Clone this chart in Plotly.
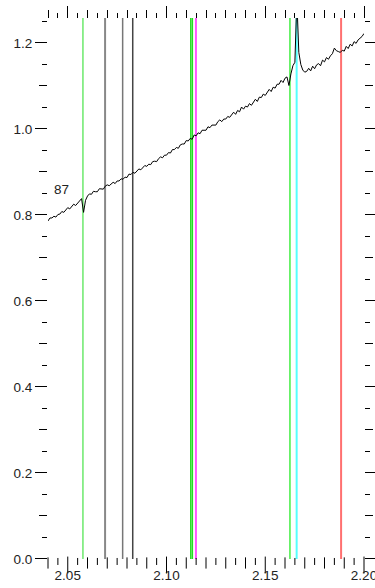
import plotly.graph_objects as go

# Wavelength grid (micron) and normalised flux of the spectrum
wave = [
    2.040, 2.041, 2.042, 2.043, 2.044, 2.045, 2.046, 2.047, 2.048, 2.049,
    2.050, 2.051, 2.052, 2.053, 2.054, 2.055, 2.056, 2.057, 2.058, 2.059,
    2.060, 2.061, 2.062, 2.063, 2.064, 2.065, 2.066, 2.067, 2.068, 2.069,
    2.070, 2.071, 2.072, 2.073, 2.074, 2.075, 2.076, 2.077, 2.078, 2.079,
    2.080, 2.081, 2.082, 2.083, 2.084, 2.085, 2.086, 2.087, 2.088, 2.089,
    2.090, 2.091, 2.092, 2.093, 2.094, 2.095, 2.096, 2.097, 2.098, 2.099,
    2.100, 2.101, 2.102, 2.103, 2.104, 2.105, 2.106, 2.107, 2.108, 2.109,
    2.110, 2.111, 2.112, 2.113, 2.114, 2.115, 2.116, 2.117, 2.118, 2.119,
    2.120, 2.121, 2.122, 2.123, 2.124, 2.125, 2.126, 2.127, 2.128, 2.129,
    2.130, 2.131, 2.132, 2.133, 2.134, 2.135, 2.136, 2.137, 2.138, 2.139,
    2.140, 2.141, 2.142, 2.143, 2.144, 2.145, 2.146, 2.147, 2.148, 2.149,
    2.150, 2.151, 2.152, 2.153, 2.154, 2.155, 2.156, 2.157, 2.158, 2.159,
    2.160, 2.161, 2.162, 2.163, 2.164, 2.165, 2.166, 2.167, 2.168, 2.169,
    2.170, 2.171, 2.172, 2.173, 2.174, 2.175, 2.176, 2.177, 2.178, 2.179,
    2.180, 2.181, 2.182, 2.183, 2.184, 2.185, 2.186, 2.187, 2.188, 2.189,
    2.190, 2.191, 2.192, 2.193, 2.194, 2.195, 2.196, 2.197, 2.198, 2.199,
    2.200,
]
flux = [
    0.786, 0.793, 0.793, 0.797, 0.795, 0.801, 0.802, 0.808, 0.806, 0.811,
    0.817, 0.814, 0.820, 0.825, 0.822, 0.828, 0.833, 0.838, 0.806, 0.834,
    0.844, 0.849, 0.848, 0.855, 0.854, 0.854, 0.861, 0.861, 0.860, 0.867,
    0.870, 0.868, 0.872, 0.876, 0.873, 0.879, 0.879, 0.884, 0.883, 0.888,
    0.887, 0.895, 0.894, 0.899, 0.897, 0.903, 0.907, 0.905, 0.910, 0.915,
    0.913, 0.918, 0.917, 0.924, 0.925, 0.924, 0.931, 0.935, 0.933, 0.939,
    0.939, 0.945, 0.944, 0.952, 0.952, 0.957, 0.955, 0.963, 0.965, 0.965,
    0.973, 0.972, 0.978, 0.976, 0.986, 0.984, 0.991, 0.989, 0.997, 0.997,
    0.997, 1.005, 1.003, 1.009, 1.009, 1.009, 1.017, 1.021, 1.017, 1.023,
    1.023, 1.029, 1.027, 1.033, 1.039, 1.034, 1.043, 1.040, 1.051, 1.046,
    1.053, 1.051, 1.059, 1.055, 1.063, 1.069, 1.064, 1.074, 1.073, 1.081,
    1.078, 1.086, 1.092, 1.087, 1.097, 1.095, 1.104, 1.104, 1.113, 1.108,
    1.118, 1.121, 1.101, 1.128, 1.147, 1.155, 1.300, 1.178, 1.150, 1.137,
    1.132, 1.134, 1.141, 1.135, 1.146, 1.140, 1.149, 1.152, 1.147, 1.160,
    1.156, 1.166, 1.162, 1.170, 1.175, 1.188, 1.182, 1.180, 1.178, 1.183,
    1.181, 1.192, 1.187, 1.197, 1.193, 1.203, 1.199, 1.207, 1.210, 1.215,
    1.222,
]

# Marked line positions and their colours
line_pos = [2.0577, 2.0689, 2.0778, 2.0829, 2.1123, 2.1131, 2.1149, 2.1625, 2.1659, 2.1884]
line_col = ["#22dd22", "#888888", "#777777", "#444444", "#22dd22", "#22dd22",
            "#ff55ff", "#44ee44", "#55ffff", "#ff7070"]
line_w = [1, 2, 1.5, 1.5, 1.5, 1.5, 2, 1.5, 2, 2]

label_text = "87"
label_x, label_y = 2.042, 0.860

x_range = [2.04, 2.20]
y_lo, y_hi = 0.0, 1.258          # extent of the frame (ticks and marker lines)
y_view = [-0.014, y_hi]          # small pad below zero leaves room for the tick labels
x_major = [2.05, 2.10, 2.15, 2.20]
x_major_text = ["2.05", "2.10", "2.15", "2.20"]
x_medium = [2.04, 2.06, 2.07, 2.08, 2.09, 2.11, 2.12, 2.13, 2.14, 2.16, 2.17, 2.18, 2.19]
x_minor = [2.045, 2.055, 2.065, 2.075, 2.085, 2.095, 2.105, 2.115, 2.125, 2.135,
           2.145, 2.155, 2.165, 2.175, 2.185, 2.195]

W, H = 375, 588
M = dict(l=48, r=11, t=18, b=23)
LEN_MAJOR, LEN_MEDIUM, LEN_MINOR = 12, 8, 5
px_per_unit = (H - M["t"] - M["b"]) / (y_view[1] - y_view[0])

fig = go.Figure()

for xv, c, w in zip(line_pos, line_col, line_w):
    fig.add_trace(go.Scatter(x=[xv, xv], y=[y_lo, y_hi], mode="lines",
                             line=dict(color=c, width=w), hoverinfo="skip"))

fig.add_trace(go.Scatter(x=wave, y=flux, mode="lines",
                         line=dict(color="black", width=1)))

# bottom tick marks hanging below y = 0 (vertical line markers, not clipped)
for vals, ln in [(x_major, LEN_MAJOR), (x_medium, LEN_MEDIUM), (x_minor, LEN_MINOR)]:
    yc = y_lo - (ln / 2) / px_per_unit
    fig.add_trace(go.Scatter(x=vals, y=[yc] * len(vals), mode="markers", cliponaxis=False,
                             marker=dict(symbol="line-ns", size=ln,
                                         line=dict(width=1, color="black")),
                             hoverinfo="skip"))

# empty traces so that each overlaid tick axis gets drawn
for xa, ya in [("x2", "y"), ("x4", "y"), ("x", "y2")]:
    fig.add_trace(go.Scatter(x=[], y=[], xaxis=xa, yaxis=ya, mode="lines", hoverinfo="skip"))

font = dict(family="Liberation Sans, Arial, sans-serif", size=13.5, color="#222")

fig.add_annotation(x=label_x, y=label_y, text=label_text, showarrow=False,
                   xanchor="left", yanchor="middle", font=font)

common = dict(showgrid=False, zeroline=False, showline=False,
              tickcolor="black", tickwidth=1, automargin=False,
              ticklabeloverflow="allow")

def axis(**kw):
    d = dict(common)
    d.update(kw)
    return d

def minor_ticks(t0, dt, side="outside"):
    return dict(tickmode="linear", tick0=t0, dtick=dt, ticklen=LEN_MINOR, ticks=side,
                tickcolor="black", tickwidth=1, showgrid=False)

fig.update_layout(
    width=W, height=H, margin=M,
    paper_bgcolor="white", plot_bgcolor="white",
    showlegend=False, font=font,
    # bottom labels only
    xaxis=axis(range=x_range, tickmode="array", tickvals=x_major, ticktext=x_major_text,
               ticks="", tickfont=font),
    # top edge: major + short minor, then medium ticks
    xaxis2=axis(range=x_range, overlaying="x", side="top", anchor="free", position=1,
                ticks="outside", showticklabels=False, tickmode="array", tickvals=x_major,
                ticklen=LEN_MAJOR, minor=minor_ticks(2.04, 0.005)),
    xaxis4=axis(range=x_range, overlaying="x", side="top", anchor="free", position=1,
                ticks="outside", showticklabels=False, tickmode="array", tickvals=x_medium,
                ticklen=LEN_MEDIUM),
    # left labels with major + short minor ticks, mirrored on the right
    yaxis=axis(range=y_view, tickmode="linear", tick0=0, dtick=0.2, ticks="outside",
               ticklen=LEN_MAJOR, tickformat=".1f", tickfont=font, mirror="ticks",
               minor=minor_ticks(0, 0.05)),
    # medium ticks on the right, mirrored on the left
    yaxis2=axis(range=y_view, overlaying="y", side="right", anchor="x", ticks="outside",
                tickmode="linear", tick0=0.1, dtick=0.2, ticklen=LEN_MEDIUM,
                showticklabels=False, mirror="ticks"),
)

fig.write_html("out.html")
